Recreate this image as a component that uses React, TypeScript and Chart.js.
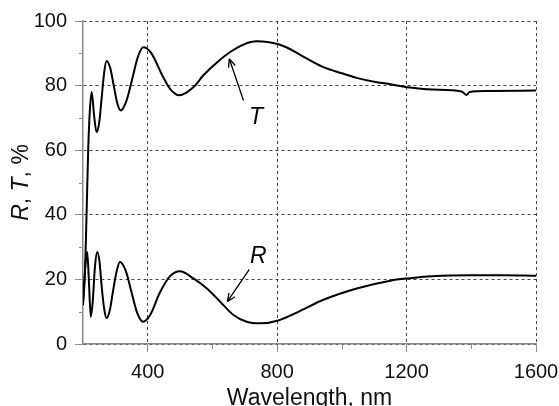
import React, { useEffect, useRef } from 'react';
import { Chart, registerables } from 'chart.js';

Chart.register(...registerables);

// ---- data ----
const tWavelength = [200, 206, 211, 216, 221, 227, 234, 242, 250, 258, 266, 273, 284, 295, 306, 317, 335, 352, 370, 386, 410, 448, 469, 498, 541, 572, 613, 655, 696, 737, 770, 804, 830, 870, 943, 1000, 1046, 1100, 1150, 1203, 1280, 1370, 1385, 1395, 1450, 1600];
const tValue = [12, 22, 40, 60, 72, 78, 71, 65.6, 68.5, 76.5, 84.5, 87.6, 85.5, 80, 74.5, 72.3, 75.5, 82, 89, 91.9, 90.2, 82.6, 79, 77, 79.5, 83.2, 87.1, 90.4, 92.7, 93.7, 93.5, 92.8, 91.8, 89.6, 85.7, 83.8, 82.4, 81.2, 80.4, 79.5, 78.8, 78.2, 77.1, 78, 78.3, 78.5];

const rWavelength = [200, 207, 213, 218, 224, 230, 237, 244, 251, 258, 266, 273, 283, 293, 304, 314, 332, 350, 368, 386, 407, 438, 469, 500, 541, 583, 624, 665, 706, 747, 804, 870, 943, 1046, 1150, 1203, 1280, 1400, 1500, 1600];
const rValue = [13, 24, 28.5, 20, 8.4, 13, 24, 28.5, 25.5, 17.5, 10.5, 8, 10.5, 16.5, 22.5, 25.4, 22.7, 16, 9.5, 6.9, 8.9, 16, 21, 22.5, 20.3, 17.2, 13.1, 9, 6.9, 6.4, 7.3, 10.2, 13.7, 17.2, 19.6, 20.3, 21, 21.3, 21.3, 21.1];

const xMajorTicks = [400, 800, 1200, 1600];
const xMinorTicks = [600, 1000, 1400];
const yMajorTicks = [0, 20, 40, 60, 80, 100];
const yMinorTicks = [10, 30, 50, 70, 90];

const xTitle = 'Wavelength, nm';
const yTitleParts = [
  { text: 'R', italic: true },
  { text: ', ', italic: false },
  { text: 'T', italic: true },
  { text: ', %', italic: false },
];

const curveLabels = [
  { text: 'T', labelX: 735, labelY: 70, fromX: 696, fromY: 75.4, toX: 652, toY: 88.3 },
  { text: 'R', labelX: 742, labelY: 27, fromX: 714, fromY: 23.1, toX: 646, toY: 13.1 },
];

const FONT = '"Liberation Sans", Arial, sans-serif';
const AXIS_COLOR = '#8a8a8a';

const extrasPlugin = {
  id: 'extras',
  afterDraw(chart: any) {
    const { ctx, scales } = chart;
    const xs = scales.x;
    const ys = scales.y;
    const area = chart.chartArea;
    ctx.save();
    // minor ticks
    ctx.strokeStyle = AXIS_COLOR;
    ctx.lineWidth = 1;
    ctx.setLineDash([]);
    ctx.beginPath();
    for (const v of yMinorTicks) {
      const py = Math.round(ys.getPixelForValue(v)) + 0.5;
      ctx.moveTo(area.left - 4, py);
      ctx.lineTo(area.left, py);
    }
    for (const v of xMinorTicks) {
      const px = Math.round(xs.getPixelForValue(v)) + 0.5;
      ctx.moveTo(px, area.bottom);
      ctx.lineTo(px, area.bottom + 5);
    }
    ctx.stroke();

    // curve labels with arrows
    ctx.fillStyle = '#000';
    ctx.strokeStyle = '#000';
    ctx.lineWidth = 1.3;
    ctx.font = `italic 23px ${FONT}`;
    ctx.textAlign = 'center';
    ctx.textBaseline = 'middle';
    for (const a of curveLabels) {
      const lx = xs.getPixelForValue(a.labelX);
      const ly = ys.getPixelForValue(a.labelY);
      ctx.fillText(a.text, lx, ly);
      const fx = xs.getPixelForValue(a.fromX);
      const fy = ys.getPixelForValue(a.fromY);
      const tx = xs.getPixelForValue(a.toX);
      const ty = ys.getPixelForValue(a.toY);
      ctx.beginPath();
      ctx.moveTo(fx, fy);
      ctx.lineTo(tx, ty);
      const ang = Math.atan2(ty - fy, tx - fx);
      const hl = 9;
      const spread = 0.4;
      ctx.moveTo(tx, ty);
      ctx.lineTo(tx - hl * Math.cos(ang - spread), ty - hl * Math.sin(ang - spread));
      ctx.moveTo(tx, ty);
      ctx.lineTo(tx - hl * Math.cos(ang + spread), ty - hl * Math.sin(ang + spread));
      ctx.stroke();
    }

    // y axis title with italic parts
    const cy = (area.top + area.bottom) / 2;
    const cx = 22;
    ctx.translate(cx, cy);
    ctx.rotate(-Math.PI / 2);
    ctx.textAlign = 'left';
    ctx.textBaseline = 'middle';
    let total = 0;
    const widths: number[] = [];
    for (const p of yTitleParts) {
      ctx.font = `${p.italic ? 'italic ' : ''}23px ${FONT}`;
      const w = ctx.measureText(p.text).width;
      widths.push(w);
      total += w;
    }
    let x = -total / 2;
    yTitleParts.forEach((p, i) => {
      ctx.font = `${p.italic ? 'italic ' : ''}23px ${FONT}`;
      ctx.fillStyle = '#111';
      ctx.fillText(p.text, x, 0);
      x += widths[i];
    });
    ctx.restore();
  },
};

export default function App() {
  const canvasRef = useRef<HTMLCanvasElement | null>(null);

  useEffect(() => {
    if (!canvasRef.current) return;
    const chart = new Chart(canvasRef.current, {
      type: 'line',
      data: {
        datasets: [
          {
            label: 'T',
            data: tWavelength.map((w, i) => ({ x: w, y: tValue[i] })),
            borderColor: '#000',
            borderWidth: 2,
            pointRadius: 0,
            cubicInterpolationMode: 'monotone',
            fill: false,
          },
          {
            label: 'R',
            data: rWavelength.map((w, i) => ({ x: w, y: rValue[i] })),
            borderColor: '#000',
            borderWidth: 2,
            pointRadius: 0,
            cubicInterpolationMode: 'monotone',
            fill: false,
          },
        ],
      },
      options: {
        responsive: false,
        animation: false,
        devicePixelRatio: 1,
        layout: { padding: { top: 21, right: 23, left: 0, bottom: 0 } },
        plugins: {
          legend: { display: false },
          tooltip: { enabled: false },
        },
        scales: {
          x: {
            type: 'linear',
            min: 200,
            max: 1600,
            afterBuildTicks: (scale: any) => {
              scale.ticks = xMajorTicks.map((v) => ({ value: v }));
            },
            afterFit: (scale: any) => {
              scale.height = 62;
              scale.paddingRight = 0;
              scale.paddingLeft = 0;
            },
            grid: {
              color: '#444',
              lineWidth: 1,
              drawTicks: true,
              tickLength: 8,
              tickColor: AXIS_COLOR,
              tickWidth: 1,
            },
            border: { display: true, color: AXIS_COLOR, width: 1.5, dash: [3, 3] },
            ticks: {
              color: '#111',
              font: { family: FONT, size: 20 },
              padding: 8,
              maxRotation: 0,
              autoSkip: false,
              callback: (v: any) => String(v),
            },
            title: {
              display: true,
              text: xTitle,
              color: '#111',
              font: { family: FONT, size: 23 },
              padding: { top: 0, bottom: -6 },
            },
          },
          y: {
            type: 'linear',
            min: 0,
            max: 100,
            afterBuildTicks: (scale: any) => {
              scale.ticks = yMajorTicks.map((v) => ({ value: v }));
            },
            afterFit: (scale: any) => {
              scale.width = 83;
              scale.paddingTop = 0;
              scale.paddingBottom = 0;
            },
            grid: {
              color: '#444',
              lineWidth: 1,
              drawTicks: true,
              tickLength: 8,
              tickColor: AXIS_COLOR,
              tickWidth: 1,
            },
            border: { display: true, color: AXIS_COLOR, width: 1.5, dash: [3, 3] },
            ticks: {
              color: '#111',
              font: { family: FONT, size: 20 },
              padding: 8,
              callback: (v: any) => String(v),
            },
          },
        },
      },
      plugins: [extrasPlugin],
    } as any);
    return () => chart.destroy();
  }, []);

  return (
    <div style={{ position: 'fixed', left: 0, top: 0, width: 559, height: 406, background: '#fff' }}>
      <canvas ref={canvasRef} width={559} height={406} style={{ display: 'block' }} />
    </div>
  );
}
